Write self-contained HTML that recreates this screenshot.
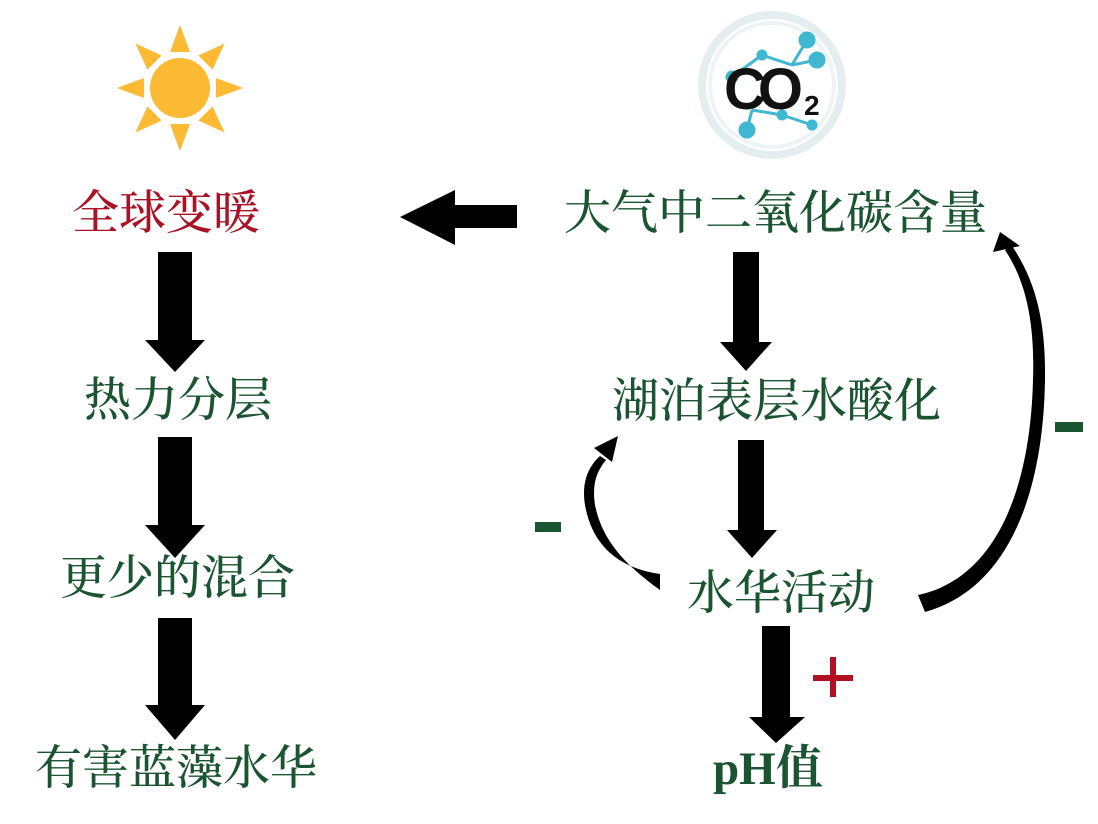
<!DOCTYPE html>
<html><head><meta charset="utf-8"><style>
html,body{margin:0;padding:0;background:#fff;}
body{width:1098px;height:824px;position:relative;overflow:hidden;}
.t{position:absolute;font-family:"Liberation Serif","Noto Serif CJK SC",serif;font-size:47px;font-weight:500;color:#1a5430;white-space:nowrap;line-height:1;}
</style></head><body>
<svg width="1098" height="824" style="position:absolute;left:0;top:0">
<g fill="#fbb934" transform="translate(180,88)">
<circle r="30"/>
<g id="ray"><polygon points="-10,-36 10,-36 0,-63"/></g>
<use href="#ray" transform="rotate(45)"/><use href="#ray" transform="rotate(90)"/><use href="#ray" transform="rotate(135)"/>
<use href="#ray" transform="rotate(180)"/><use href="#ray" transform="rotate(225)"/><use href="#ray" transform="rotate(270)"/><use href="#ray" transform="rotate(315)"/>
</g>
<g transform="translate(772,85)">
<circle r="70" fill="none" stroke="#dde9ec" stroke-width="8" opacity="0.8"/>
<circle r="62" fill="none" stroke="#eef4f6" stroke-width="4"/>
<g stroke="#3fb7d0" stroke-width="3" fill="#3fb7d0">
<line x1="-40" y1="-8" x2="-10" y2="-30"/><line x1="-10" y1="-30" x2="20" y2="-20"/><line x1="20" y1="-20" x2="35" y2="-45"/>
<line x1="20" y1="-20" x2="45" y2="-25"/><line x1="-20" y1="25" x2="10" y2="30"/><line x1="10" y1="30" x2="40" y2="40"/>
<line x1="-20" y1="25" x2="-25" y2="45"/>
<circle cx="-10" cy="-30" r="4"/><circle cx="35" cy="-45" r="7"/><circle cx="45" cy="-25" r="7"/><circle cx="-40" cy="-8" r="5"/>
<circle cx="-25" cy="45" r="7"/><circle cx="40" cy="40" r="4"/><circle cx="10" cy="30" r="4"/>
</g>
<text x="-48" y="24" font-family="Liberation Sans,sans-serif" font-weight="bold" font-size="58" fill="#111" letter-spacing="-8">CO</text>
<text x="32" y="30" font-family="Liberation Sans,sans-serif" font-weight="bold" font-size="28" fill="#111">2</text>
</g>
<g fill="#000">
<polygon points="517,205 455,205 455,190 400,217 455,245 455,228 517,228"/>
<polygon points="158,252 192,252 192,340 205,340 175,372 145,340 158,340"/>
<polygon points="158,437 192,437 192,525 205,525 175,558 145,525 158,525"/>
<polygon points="158,618 192,618 192,705 205,705 175,740 145,705 158,705"/>
<polygon points="733,252 759,252 759,342 772,342 746,371 720,342 733,342"/>
<polygon points="738,440 764,440 764,530 777,530 752,558 727,530 738,530"/>
<polygon points="762,626 790,626 790,717 805,717 776,743 749,717 762,717"/>
</g>
<path d="M660,574 C618,568 592,545 585,505 C581,480 590,465 600,456 L606,460 C596,472 592,485 595,505 C602,540 625,565 660,590 Z" fill="#000"/>
<polygon points="594,448 618,436 612,462" fill="#000"/>
<path d="M918,595 C990,580 1030,500 1033,380 C1035,320 1025,280 1005,250 L1012,246 C1035,280 1046,320 1045,380 C1043,500 1005,590 925,612 Z" fill="#000"/>
<polygon points="993,252 1000,232 1020,246" fill="#000"/>
<rect x="535" y="522" width="26" height="10" fill="#1a5430"/>
<rect x="1055" y="422" width="28" height="10" fill="#1a5430"/>
<rect x="813" y="675" width="40" height="6" fill="#b01020"/>
<rect x="830" y="657" width="6" height="40" fill="#b01020"/>
</svg>
<div class="t" style="left:72px;top:191px;color:#a81325;">全球变暖</div>
<div class="t" style="left:84px;top:378px;">热力分层</div>
<div class="t" style="left:60px;top:556px;">更少的混合</div>
<div class="t" style="left:35px;top:746px;">有害蓝藻水华</div>
<div class="t" style="left:564px;top:191px;">大气中二氧化碳含量</div>
<div class="t" style="left:612px;top:379px;">湖泊表层水酸化</div>
<div class="t" style="left:687px;top:571px;">水华活动</div>
<div class="t" style="left:713px;top:746px;font-weight:bold;">pH值</div>
</body></html>
